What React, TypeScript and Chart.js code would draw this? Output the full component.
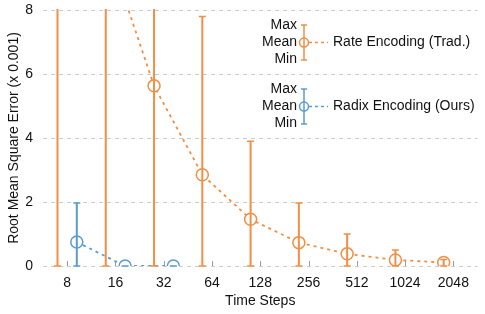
import React, { useEffect, useRef } from 'react';
import { Chart, registerables } from 'chart.js';

Chart.register(...registerables);

const categories = ['8', '16', '32', '64', '128', '256', '512', '1024', '2048'];
const rateMean = [20, 10.1, 5.63, 2.85, 1.46, 0.73, 0.38, 0.19, 0.11];
const rateMax = [40, 25, 12, 7.8, 3.9, 1.97, 1.0, 0.5, 0.2];
const rateMin = [0, 0, 0, 0, 0, 0, 0, 0, 0];
const radixMean = [0.75, 0, 0];
const radixMax = [1.97, 0, 0];
const radixMin = [0, 0, 0];
const yTicks = [0, 2, 4, 6, 8];
const legendRows = ['Max', 'Mean', 'Min'];

const ORANGE = '#F28E45';
const BLUE = '#5B9BD5';
const FONT = '"Liberation Sans", Arial, Helvetica, sans-serif';
const FS = 14;
const OFFSET = 0.2;

export default function App() {
  const ref = useRef<HTMLCanvasElement>(null);

  useEffect(() => {
    if (!ref.current) return;

    const innerTicks = {
      id: 'innerTicks',
      beforeDatasetsDraw(chart: any) {
        const { ctx, chartArea, scales } = chart;
        ctx.save();
        ctx.strokeStyle = '#9a9a9a';
        ctx.lineWidth = 1;
        categories.forEach((_, i) => {
          const px = Math.round(scales.x.getPixelForValue(i)) + 0.5;
          ctx.beginPath();
          ctx.moveTo(px, chartArea.bottom - 5);
          ctx.lineTo(px, chartArea.bottom);
          ctx.stroke();
        });
        ctx.restore();
      },
    };

    const errorBars = {
      id: 'errorBars',
      afterDatasetsDraw(chart: any) {
        const { ctx, chartArea, scales } = chart;
        const x = scales.x;
        const y = scales.y;
        ctx.save();
        ctx.beginPath();
        ctx.rect(chartArea.left, chartArea.top - 1, chartArea.width, chartArea.height + 2);
        ctx.clip();
        const draw = (mins: number[], maxs: number[], off: number, color: string) => {
          ctx.strokeStyle = color;
          mins.forEach((mn, i) => {
            const px = x.getPixelForValue(i + off);
            const y0 = y.getPixelForValue(mn);
            const y1 = y.getPixelForValue(maxs[i]);
            ctx.lineWidth = 2;
            ctx.beginPath();
            ctx.moveTo(px, y0);
            ctx.lineTo(px, y1);
            ctx.stroke();
            ctx.lineWidth = 1.5;
            ctx.beginPath();
            ctx.moveTo(px - 3.5, y0);
            ctx.lineTo(px + 3.5, y0);
            ctx.moveTo(px - 3.5, y1);
            ctx.lineTo(px + 3.5, y1);
            ctx.stroke();
          });
        };
        draw(rateMin, rateMax, -OFFSET, ORANGE);
        draw(radixMin, radixMax, OFFSET, BLUE);
        ctx.restore();
      },
    };

    const legend = {
      id: 'customLegend',
      afterDraw(chart: any) {
        const { ctx } = chart;
        const entries = [
          { label: chart.data.datasets[0].label, color: ORANGE, cy: 42.5 },
          { label: chart.data.datasets[1].label, color: BLUE, cy: 106.5 },
        ];
        ctx.save();
        ctx.font = `${FS}px ${FONT}`;
        ctx.textBaseline = 'middle';
        entries.forEach((e) => {
          ctx.fillStyle = '#111';
          ctx.textAlign = 'right';
          ctx.fillText(legendRows[0], 297, e.cy - 17);
          ctx.fillText(legendRows[1], 297, e.cy);
          ctx.fillText(legendRows[2], 297, e.cy + 17);
          const ix = 304;
          ctx.strokeStyle = e.color;
          ctx.lineWidth = 1.5;
          ctx.beginPath();
          ctx.moveTo(ix, e.cy - 17.5);
          ctx.lineTo(ix, e.cy + 17.5);
          ctx.moveTo(ix - 3, e.cy - 17.5);
          ctx.lineTo(ix + 3, e.cy - 17.5);
          ctx.moveTo(ix - 3, e.cy + 17.5);
          ctx.lineTo(ix + 3, e.cy + 17.5);
          ctx.stroke();
          ctx.setLineDash([3, 3]);
          ctx.beginPath();
          ctx.moveTo(ix + 5, e.cy);
          ctx.lineTo(ix + 24, e.cy);
          ctx.stroke();
          ctx.setLineDash([]);
          ctx.fillStyle = '#fff';
          ctx.beginPath();
          ctx.arc(ix, e.cy, 4.5, 0, Math.PI * 2);
          ctx.fill();
          ctx.stroke();
          ctx.beginPath();
          ctx.moveTo(ix, e.cy - 4.5);
          ctx.lineTo(ix, e.cy + 4.5);
          ctx.stroke();
          ctx.fillStyle = '#111';
          ctx.textAlign = 'left';
          ctx.fillText(e.label, 333, e.cy);
        });
        ctx.restore();
      },
    };

    const chart = new Chart(ref.current, {
      type: 'line',
      data: {
        datasets: [
          {
            label: 'Rate Encoding (Trad.)',
            data: rateMean.map((v, i) => ({ x: i - OFFSET, y: v })),
            borderColor: ORANGE,
            backgroundColor: '#fff',
            borderWidth: 1.8,
            borderDash: [3, 4],
            pointRadius: 6,
            pointBorderWidth: 1.5,
            pointBackgroundColor: '#fff',
            pointBorderColor: ORANGE,
            tension: 0,
          },
          {
            label: 'Radix Encoding (Ours)',
            data: radixMean.map((v, i) => ({ x: i + OFFSET, y: v })),
            borderColor: BLUE,
            backgroundColor: '#fff',
            borderWidth: 1.8,
            borderDash: [3, 4],
            pointRadius: 6,
            pointBorderWidth: 1.5,
            pointBackgroundColor: '#fff',
            pointBorderColor: BLUE,
            tension: 0,
          },
        ],
      },
      options: {
        animation: false,
        responsive: true,
        maintainAspectRatio: false,
        layout: { padding: { top: 10, right: 7, left: 0, bottom: 0 } },
        plugins: { legend: { display: false }, tooltip: { enabled: false } },
        scales: {
          x: {
            type: 'linear',
            min: -0.5,
            max: 8.5,
            afterBuildTicks: (scale: any) => {
              scale.ticks = categories.map((_, i) => ({ value: i }));
            },
            afterFit: (scale: any) => {
              scale.height = 48;
              scale.paddingLeft = 0;
              scale.paddingRight = 0;
            },
            ticks: {
              callback: (v: any) => categories[v as number] ?? '',
              color: '#111',
              font: { family: FONT, size: FS },
              padding: 9,
              maxRotation: 0,
              autoSkip: false,
            },
            grid: { display: false, drawTicks: false },
            border: { display: false },
            title: {
              display: true,
              text: 'Time Steps',
              color: '#111',
              font: { family: FONT, size: FS },
              padding: { top: 0, bottom: 4 },
            },
          },
          y: {
            min: 0,
            max: 8,
            afterBuildTicks: (scale: any) => {
              scale.ticks = yTicks.map((v) => ({ value: v }));
            },
            afterFit: (scale: any) => {
              scale.width = 43;
              scale.paddingTop = 0;
              scale.paddingBottom = 0;
            },
            ticks: {
              color: '#111',
              font: { family: FONT, size: FS },
              padding: 10,
            },
            grid: {
              color: '#cccccc',
              lineWidth: 1,
              drawTicks: false,
            },
            border: { display: false, dash: [4, 4] },
            title: {
              display: true,
              text: 'Root Mean Square Error (x 0.001)',
              color: '#111',
              font: { family: FONT, size: FS },
              padding: { top: 6, bottom: 0 },
            },
          },
        },
      },
      plugins: [innerTicks, errorBars, legend],
    } as any);

    return () => chart.destroy();
  }, []);

  return (
    <div style={{ position: 'fixed', left: 0, top: 0, width: 485, height: 314, background: '#fff' }}>
      <canvas ref={ref} />
    </div>
  );
}
